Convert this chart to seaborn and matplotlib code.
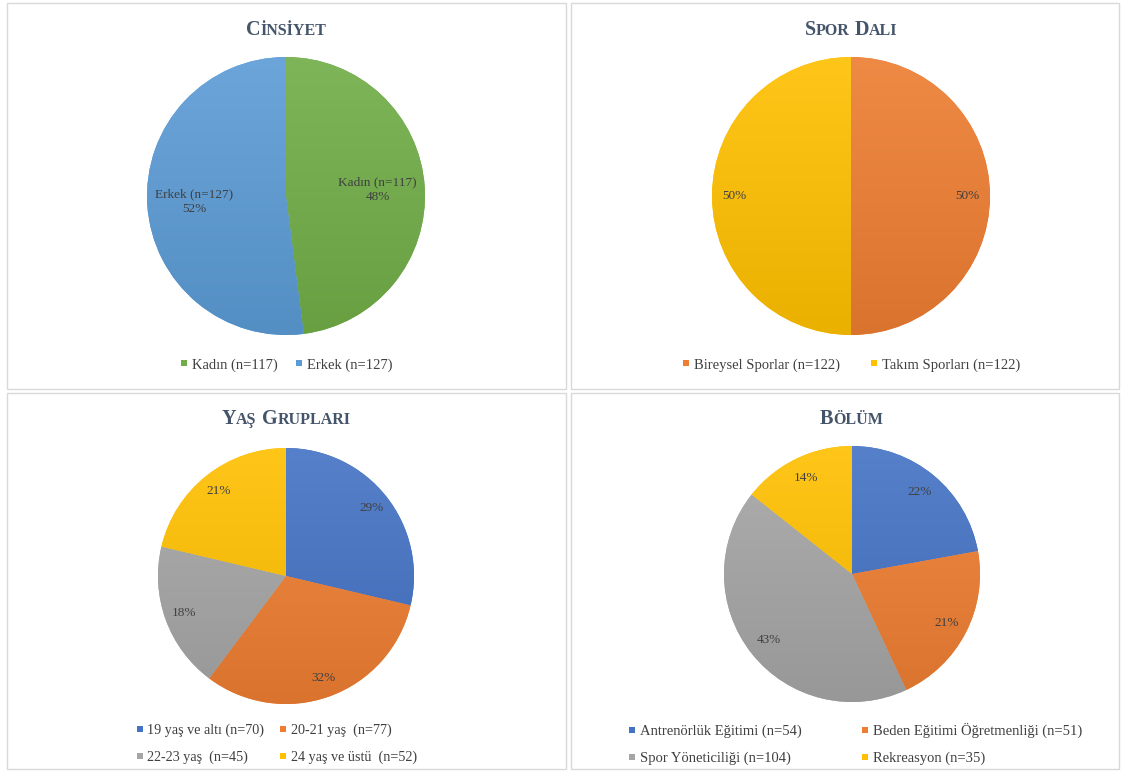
import numpy as np
import matplotlib
matplotlib.use("Agg")
import matplotlib.pyplot as plt
import seaborn as sns
from matplotlib.colors import LinearSegmentedColormap, to_rgb
from matplotlib.lines import Line2D
from matplotlib.patches import Rectangle

# ---------------- data ----------------
gender_labels = ["Kadın", "Erkek"]
gender_counts = [117, 127]
sport_labels = ["Bireysel Sporlar", "Takım Sporları"]
sport_counts = [122, 122]
age_labels = ["19 yaş ve altı", "20-21 yaş ", "22-23 yaş ", "24 yaş ve üstü "]
age_counts = [70, 77, 45, 52]
dept_labels = ["Antrenörlük Eğitimi", "Beden Eğitimi Öğretmenliği",
               "Spor Yöneticiliği", "Rekreasyon"]
dept_counts = [54, 51, 104, 35]

titles = [["C", "İNSİYET"], ["S", "POR"], ["D", "ALI"],
          ["Y", "AŞ"], ["G", "RUPLARI"], ["B", "ÖLÜM"]]

# ---------------- style ----------------
sns.set_style("white")
plt.rcParams["font.family"] = ["Liberation Serif", "DejaVu Serif"]

BLUE, ORANGE, GRAY, YELLOW, LBLUE, GREEN = ("#4472C4", "#ED7D31", "#A5A5A5",
                                            "#FFC000", "#5B9BD5", "#70AD47")
TXT = "#404040"
TITLE_C = "#44546A"

W, H = 1122, 771
fig = plt.figure(figsize=(W / 100, H / 100), dpi=100)
fig.patch.set_facecolor("white")


def mix(c, other, f):
    c = np.array(to_rgb(c))
    o = np.array(to_rgb(other))
    return tuple(c + (o - c) * f)


# panel borders
for (x0, y0, x1, y1) in [(7, 3, 566, 389), (571, 3, 1119, 389),
                         (7, 393, 566, 769), (571, 393, 1119, 769)]:
    fig.patches.append(Rectangle((x0 / W, 1 - y1 / H), (x1 - x0) / W, (y1 - y0) / H,
                                 transform=fig.transFigure, fill=False,
                                 edgecolor="#D9D9D9", linewidth=1.0))


def pie_panel(cx, cy, r, counts, colors, texts, dist, fs=9.5):
    ax = fig.add_axes([(cx - r) / W, (H - cy - r) / H, 2 * r / W, 2 * r / H])
    wedges, _ = ax.pie(counts, colors=colors, startangle=90, counterclock=False,
                       radius=1, wedgeprops=dict(linewidth=0))
    grad = np.linspace(0, 1, 256).reshape(-1, 1)
    for w, c in zip(wedges, colors):
        cmap = LinearSegmentedColormap.from_list("g", [mix(c, "white", 0.10),
                                                       mix(c, "black", 0.08)])
        im = ax.imshow(grad, extent=(-1, 1, -1, 1), cmap=cmap, aspect="auto",
                       origin="upper", zorder=w.get_zorder() + 0.1)
        im.set_clip_path(w)
    for w, t in zip(wedges, texts):
        a = np.deg2rad((w.theta1 + w.theta2) / 2)
        ax.text(dist * np.cos(a), dist * np.sin(a), t, ha="center", va="center",
                fontsize=fs, color=TXT, zorder=5, linespacing=1.3)
    ax.set_xlim(-1, 1)
    ax.set_ylim(-1, 1)
    ax.set_aspect("equal")
    ax.axis("off")
    return ax


def pct(counts):
    s = sum(counts)
    return [f"{round(100 * c / s)}%" for c in counts]


# Cinsiyet
gp = pct(gender_counts)
pie_panel(286, 196, 139, gender_counts, [GREEN, LBLUE],
          [f"{l} (n={c})\n{p}" for l, c, p in zip(gender_labels, gender_counts, gp)], 0.66)
# Spor Dalı
pie_panel(851, 196, 139, sport_counts, [ORANGE, YELLOW], pct(sport_counts), 0.84)
# Yaş Grupları
pie_panel(286, 576, 128, age_counts, [BLUE, ORANGE, GRAY, YELLOW], pct(age_counts), 0.85)
# Bölüm
pie_panel(852, 574, 128, dept_counts, [BLUE, ORANGE, GRAY, YELLOW], pct(dept_counts), 0.83)


def handles(colors):
    return [Line2D([], [], marker="s", linestyle="none", markersize=5,
                   markerfacecolor=c, markeredgewidth=0) for c in colors]


def legend(colors, labels, counts, xc, yc, ncol, colsp, order=None, fs=10.5):
    hs = handles(colors)
    labs = [f"{l} (n={c})" for l, c in zip(labels, counts)]
    if order is not None:
        hs = [hs[i] for i in order]
        labs = [labs[i] for i in order]
    fig.legend(hs, labs, loc="center", bbox_to_anchor=(xc / W, 1 - yc / H),
               ncol=ncol, frameon=False, fontsize=fs, labelcolor=TXT,
               handlelength=0.6, handletextpad=0.25, columnspacing=colsp,
               labelspacing=0.95, borderpad=0)


legend([GREEN, LBLUE], gender_labels, gender_counts, 286, 365, 2, 1.2)
legend([ORANGE, YELLOW], sport_labels, sport_counts, 851, 365, 2, 2.0)
legend([BLUE, ORANGE, GRAY, YELLOW], age_labels, age_counts, 276, 744, 2, 1.0,
       order=[0, 2, 1, 3], fs=10.2)
legend([BLUE, ORANGE, GRAY, YELLOW], dept_labels, dept_counts, 855, 744, 2, 4.0,
       order=[0, 2, 1, 3])

# small-caps titles
renderer = fig.canvas.get_renderer()


def smallcaps(xc, ybase, words, big=14.5, small=11.5, gap=5):
    segs = []
    for i, (first, rest) in enumerate(words):
        segs.append((first, big, 0 if i == 0 else gap))
        segs.append((rest, small, 0))
    objs = []
    total = 0.0
    for s, f, g in segs:
        t = fig.text(0, 1 - ybase / H, s, fontsize=f, fontweight="bold",
                     color=TITLE_C, va="baseline", ha="left")
        wpx = t.get_window_extent(renderer).width
        objs.append((t, g, wpx))
        total += g + wpx
    x = xc - total / 2
    for t, g, wpx in objs:
        x += g
        t.set_x(x / W)
        x += wpx


smallcaps(286, 35, [titles[0]])
smallcaps(851, 35, [titles[1], titles[2]])
smallcaps(286, 424, [titles[3], titles[4]])
smallcaps(851, 424, [titles[5]])

fig.savefig("out.png", dpi=100, facecolor="white")
